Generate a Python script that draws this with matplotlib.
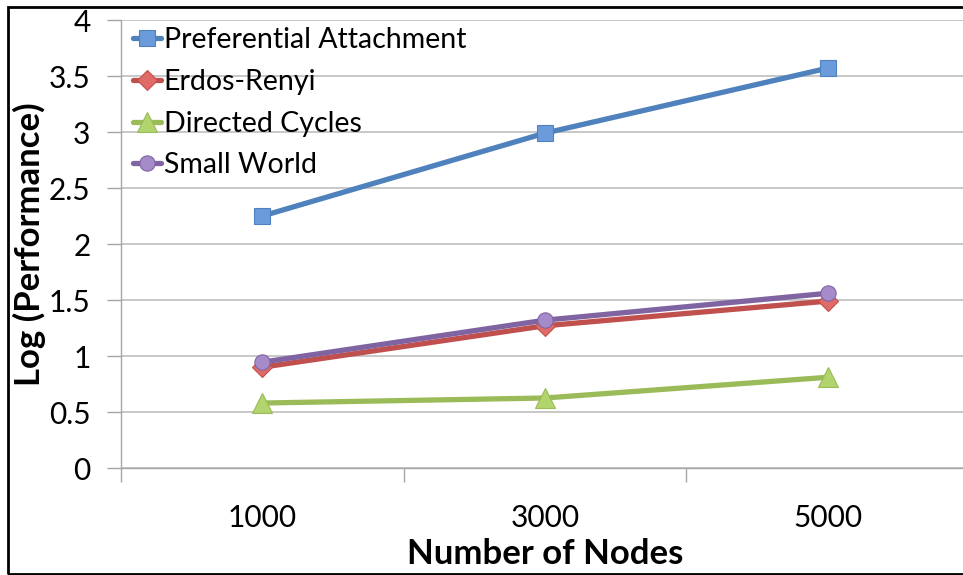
import numpy as np
import matplotlib.pyplot as plt
from matplotlib.patches import Rectangle

plt.rcParams['font.family'] = ['Lato', 'DejaVu Sans']

nodes = ['1000', '3000', '5000']
pref_attach = [2.25, 2.99, 3.57]
erdos_renyi = [0.90, 1.27, 1.49]
directed_cycles = [0.58, 0.625, 0.81]
small_world = [0.945, 1.32, 1.56]

W, H = 963, 575
fig = plt.figure(figsize=(W / 100, H / 100), dpi=100)
# plot area in pixel coordinates: left 121, right 969, top 20, bottom 468
ax = fig.add_axes([121 / W, (H - 468) / H, (969 - 121) / W, (468 - 20) / H])

x = np.arange(len(nodes))
series = [
    ('Preferential Attachment', pref_attach, '#4F81BD', 's', '#6C9BDC', 11),
    ('Erdos-Renyi', erdos_renyi, '#C0504D', 'D', '#E06A66', 10),
    ('Directed Cycles', directed_cycles, '#9BBB59', '^', '#B2D46C', 14),
    ('Small World', small_world, '#8064A2', 'o', '#A68BCB', 11),
]
for label, vals, col, mk, fill, ms in series:
    ax.plot(x, vals, color=col, lw=3.8, marker=mk, ms=ms, mfc=fill,
            mec=col, mew=0.8, label=label, solid_capstyle='round', zorder=3)

ax.set_xlim(-0.5, 2.5)
ax.set_ylim(0, 4)
ax.set_yticks(np.arange(0, 4.01, 0.5))
ax.set_yticklabels(['0', '0.5', '1', '1.5', '2', '2.5', '3', '3.5', '4'])
ax.set_xticks(x)
ax.set_xticklabels(nodes)
ax.set_xticks([-0.5, 0.5, 1.5, 2.5], minor=True)
ax.tick_params(axis='x', which='major', length=0, pad=26, labelsize=21.5)
ax.tick_params(axis='x', which='minor', length=10, color='#A6A6A6', width=1)
ax.tick_params(axis='y', length=10, color='#A6A6A6', width=1, labelsize=21.5, pad=12)
ax.grid(axis='y', color='#BFBFBF', lw=1.2)
ax.set_axisbelow(True)
for s in ['top', 'right']:
    ax.spines[s].set_visible(False)
for s in ['left', 'bottom']:
    ax.spines[s].set_color('#A6A6A6')
    ax.spines[s].set_linewidth(1)

ax.set_xlabel('Number of Nodes', fontsize=25, fontweight='bold', labelpad=4)
ax.set_ylabel('Log (Performance)', fontsize=25, fontweight='bold', labelpad=2)

leg = ax.legend(loc='upper left', bbox_to_anchor=(-0.006, 1.022), frameon=False,
                fontsize=20.5, handlelength=1.0, handletextpad=0.08,
                labelspacing=0.55, borderaxespad=0.2)

# outer chart border
fig.patches.append(Rectangle((8 / W, 1 / H), 1.2, (H - 8) / H, transform=fig.transFigure,
                             fill=False, ec='black', lw=2, zorder=10))

fig.savefig('out.png', dpi=100)
